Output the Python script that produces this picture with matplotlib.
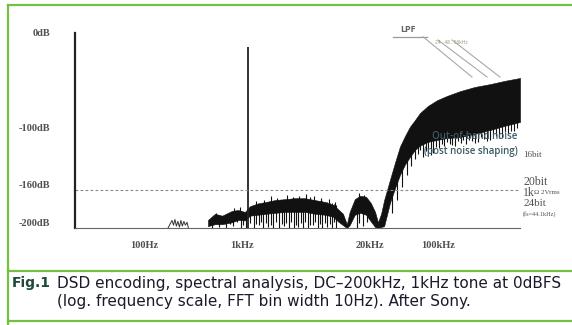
import matplotlib
matplotlib.use('Agg')
import matplotlib.pyplot as plt
import matplotlib.transforms as mtransforms
from matplotlib.lines import Line2D

# DSD spectrum (Hz, dB)
tone_freq = 1000
tone_db = -15

# small hum bump near 200Hz
hum_freq = [153, 162, 168, 174, 180, 186, 193, 200, 207, 214, 222, 230, 239, 247]
hum_db = [-206, -201, -198, -203, -197, -204, -199, -205, -198, -204, -199, -203, -200, -206]

# noise band: upper and lower envelope
band_freq = [391, 461, 545, 685, 791, 932, 1048, 1265, 1526, 1886,
             2383, 3013, 3812, 4822, 6100, 7360, 8280, 9320, 10200, 10900,
             12300, 13900, 16000, 17900, 19800, 21200, 22800, 24500, 26200, 28100,
             31600, 35500, 39900, 44900, 50500, 56900, 68600, 84900, 107000, 145000,
             206000, 295000, 418000, 597000]
band_top = [-197.5, -191, -193, -188, -187, -189, -183, -180, -178.5, -176.5,
            -175.5, -174.5, -174.5, -176.5, -178.5, -181.5, -186, -191, -202, -189,
            -175.5, -172, -173, -179.5, -189, -200, -191, -176.5, -166, -155,
            -137, -120, -109, -99, -92, -84.5, -77, -71, -66.5, -61.5,
            -57, -54, -50.5, -47.5]
band_low = [-204, -202, -202, -200, -197.5, -198, -193, -192, -191, -190,
            -189, -189, -189, -191, -192, -194, -199, -203, -206, -203,
            -192, -190, -192, -199, -205, -206, -205, -204, -192, -179.5,
            -164, -150, -139, -131, -123.5, -119, -115, -113, -111, -110,
            -106.5, -102.5, -98, -94]

# in-band spikes down to the floor
dn_freq = [430, 470, 506, 550, 597, 650, 703, 780, 848, 900, 954, 1060, 1151, 1220,
           1294, 1360, 1422, 1510, 1600, 1700, 1798, 1930, 2072, 2200, 2329, 2470,
           2620, 2780, 2946, 3090, 3238, 3440, 3641, 3860, 4095, 4340, 4605, 4870,
           5178, 5430, 5690, 6050, 6400, 6800, 7200, 7550, 7907, 12900, 13600, 14900, 16200]
dn_lo = [-206, -201, -205, -200, -206, -202, -204, -200, -206, -203, -206, -201, -206, -202,
         -203, -200, -206, -201, -205, -203, -206, -200, -206, -202, -204, -201,
         -206, -200, -206, -203, -205, -201, -206, -200, -206, -203, -203, -200,
         -206, -202, -206, -201, -205, -202, -206, -200, -206, -206, -201, -204, -200]
dn_hi = [-194, -193, -192, -194, -193, -191, -189, -190, -188, -190, -189, -186, -184, -183,
         -181, -181, -180, -180, -179, -179, -178, -178, -177, -177, -176, -176,
         -176, -176, -175, -175, -175, -175, -175, -175, -176, -176, -176, -177,
         -177, -178, -178, -179, -179, -180, -180, -181, -182, -178, -177, -176, -177]

# in-band spikes upward
up_freq = [470, 720, 830, 1200, 1450, 1700, 2000, 2500, 2850, 3300, 3900, 4300, 4700,
           5600, 6700, 7700, 13500, 15200]
up_lo = [-196, -192, -191, -185, -184, -185, -183, -182, -182, -182, -182, -182, -182,
         -183, -184, -186, -180, -180]
up_hi = [-190, -185, -184, -177, -176, -172, -174, -171, -173, -172, -170, -173, -172,
         -174, -175, -179, -169, -171]

# spikes on the lower edge of the rising slope
rise_freq = [29500, 33000, 37000, 41500, 46500, 51000]
rise_lo = [-190, -176, -163, -150, -140, -133]
rise_hi = [-170, -150, -135, -125, -115, -110]

# out-of-band spikes down from the band
ob_freq = [54300, 57500, 61100, 65000, 68700, 73000, 77300, 83000, 89000, 95000,
           100000, 108000, 115000, 122000, 129000, 139000, 149000, 158000, 168000, 180000,
           193000, 207000, 222000, 238000, 256000, 275000, 295000, 317000, 339000, 364000,
           391000, 420000, 450000, 484000, 518000, 555000]
ob_lo = [-128, -124, -131, -125, -126, -129, -127, -120, -121, -117,
         -119, -115, -117, -118, -119, -114, -116, -113, -117, -113,
         -114, -116, -115, -110, -112, -114, -113, -108, -109, -111,
         -110, -105, -106, -103, -104, -100]
ob_hi = -90

# LPF sketch lines
lpf_flat_freq = [30200, 67100]
lpf_flat_db = [-4.2, -4.2]
lpf_start_freq = [61100, 86900, 121000]
lpf_start_db = [-4, -7.4, -7.4]
lpf_end_freq = [193000, 275000, 372000]
lpf_end_db = [-46.5, -46.5, -46.5]

ref_db = -166
x_ticks = [100, 1000, 20000, 100000]
x_labels = ['100Hz', '1kHz', '20kHz', '100kHz']
y_ticks = [0, -100, -160, -200]
y_labels = ['0dB', '-100dB', '-160dB', '-200dB']

serif = ['Liberation Serif', 'DejaVu Serif']
sans = ['Open Sans', 'DejaVu Sans']
green = '#74c043'
grey_txt = '#505050'
ink = '#111111'

fig = plt.figure(figsize=(5.72, 3.25), dpi=100)
ax = fig.add_axes([75 / 572, 1 - 228 / 325, 445 / 572, 195 / 325])
ax.set_xscale('log')
ax.set_xlim(17.2, 596000)
ax.set_ylim(-206, 0)

ax.fill_between(band_freq, band_low, band_top, color=ink, linewidth=0.4, edgecolor=ink)
ax.vlines(dn_freq, dn_lo, dn_hi, color=ink, linewidth=0.8)
ax.vlines(up_freq, up_lo, up_hi, color=ink, linewidth=0.8)
ax.vlines(rise_freq, rise_lo, rise_hi, color=ink, linewidth=0.8)
ax.vlines(ob_freq, ob_lo, ob_hi, color=ink, linewidth=0.8)
ax.plot(hum_freq, hum_db, color='#333333', linewidth=0.7)
ax.vlines(tone_freq, -206, tone_db, color='#222222', linewidth=1.3)

ax.axhline(ref_db, xmax=0.995, color='#8a8a8a', linestyle=(0, (2.5, 2)), linewidth=0.8)

ax.plot(lpf_flat_freq, lpf_flat_db, color='#9a9a9a', linewidth=0.9, clip_on=False)
for f0, d0, f1, d1 in zip(lpf_start_freq, lpf_start_db, lpf_end_freq, lpf_end_db):
    ax.plot([f0, f1], [d0, d1], color='#a8a8a8', linewidth=0.8, clip_on=False)
ax.text(36000, -1, 'LPF', fontsize=6.5, fontweight='bold', color='#666666',
        family=sans, ha='left', va='bottom')
ax.text(80000, -10, '24 . 48 . 96kHz', fontsize=3.5, color='#8a9a6a',
        family=sans, ha='left', va='center')

ax.text(0.995, -109, 'Out-of-band noise', transform=ax.get_yaxis_transform(),
        fontsize=7, fontweight='semibold', color='#3d5a66', family=sans,
        ha='right', va='center', zorder=5)
ax.text(0.995, -125, '(post noise shaping)', transform=ax.get_yaxis_transform(),
        fontsize=7, fontweight='semibold', color='#3d5a66', family=sans,
        ha='right', va='center', zorder=5)

right = [('16bit', -129, 6.5), ('20bit', -157, 8.5), ('1k', -169, 8.5),
         ('24bit', -180, 8), ('(fs=44.1kHz)', -191, 4.5)]
for txt, yv, fs in right:
    ax.text(1.007, yv, txt, transform=ax.get_yaxis_transform(), fontsize=fs,
            color=grey_txt, family=serif, ha='left', va='center', clip_on=False)
ax.text(1.032, -169, 'Ω 2Vrms', transform=ax.get_yaxis_transform(), fontsize=5,
        color=grey_txt, family=serif, ha='left', va='center')

for side in ['top', 'right']:
    ax.spines[side].set_visible(False)
ax.spines['left'].set_color('#222222')
ax.spines['left'].set_linewidth(1.6)
ax.spines['bottom'].set_color('#666666')
ax.spines['bottom'].set_linewidth(0.8)

ax.set_xticks(x_ticks)
ax.set_xticklabels(x_labels)
ax.xaxis.set_minor_locator(matplotlib.ticker.NullLocator())
ax.set_yticks(y_ticks)
ax.set_yticklabels(y_labels)
ax.tick_params(length=0, labelsize=7.5, labelcolor=grey_txt)
ax.tick_params(axis='x', pad=9)
ax.tick_params(axis='y', pad=18)
for lab in ax.get_xticklabels() + ax.get_yticklabels():
    lab.set_family(serif)
    lab.set_fontweight('bold')
offset = mtransforms.ScaledTranslation(-6 / 100, 0, fig.dpi_scale_trans)
for lab in ax.get_xticklabels():
    lab.set_transform(lab.get_transform() + offset)

# green frame and caption box
frame = dict(color=green, linewidth=1.6, transform=fig.transFigure)
fig.add_artist(Line2D([0.014, 1], [0.985, 0.985], **frame))
fig.add_artist(Line2D([0.014, 0.014], [0.985, 0.0], **frame))
fig.add_artist(Line2D([0.014, 1], [0.166, 0.166], **frame))
fig.add_artist(Line2D([0.014, 1], [0.012, 0.012], **frame))

cap = ['DejaVu Sans']
fig.text(0.021, 0.129, 'Fig.1', fontsize=10, fontweight='bold', color='#1f4a3a',
         family=cap, va='center')
fig.text(0.0997, 0.129, 'DSD encoding, spectral analysis, DC–200kHz, 1kHz tone at 0dBFS',
         fontsize=11, color='#1a1a2a', family=cap, va='center')
fig.text(0.0997, 0.071, '(log. frequency scale, FFT bin width 10Hz). After Sony.',
         fontsize=11, color='#1a1a2a', family=cap, va='center')

fig.savefig('out.png', dpi=100)
